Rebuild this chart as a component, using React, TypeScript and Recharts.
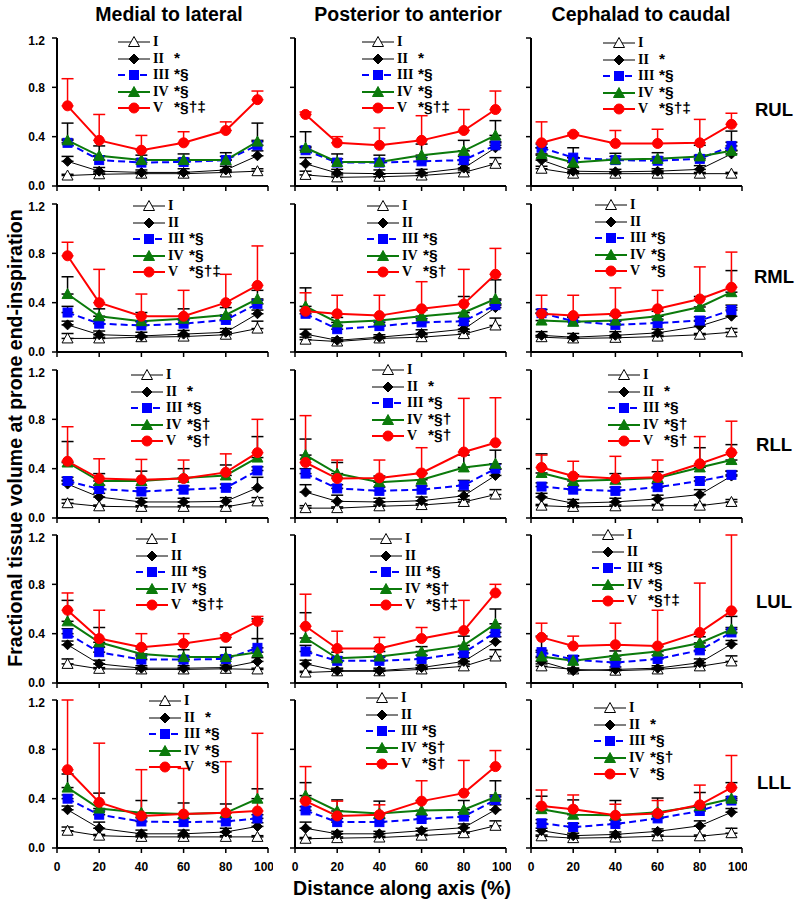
import React from 'react'
import { LineChart, Line, XAxis, YAxis, ErrorBar, Legend } from 'recharts'

const POSITIONS = [5, 20, 40, 60, 80, 95]
const GROUPS = ['I', 'II', 'III', 'IV', 'V']
const AXIS_TITLES = ['Medial to lateral', 'Posterior to anterior', 'Cephalad to caudal']
const LOBES = ['RUL', 'RML', 'RLL', 'LUL', 'LLL']
const X_TICKS = [0, 20, 40, 60, 80, 100]
const Y_TICKS = [0, 0.4, 0.8, 1.2]

// means, one row per group I..V, columns = POSITIONS
const RUL_ML = [
  [0.085, 0.095, 0.1, 0.1, 0.11, 0.12],
  [0.2, 0.12, 0.11, 0.11, 0.13, 0.245],
  [0.35, 0.21, 0.19, 0.195, 0.21, 0.33],
  [0.37, 0.245, 0.21, 0.21, 0.21, 0.36],
  [0.65, 0.37, 0.29, 0.35, 0.45, 0.7],
]
const RUL_ML_ERR = [
  [0.01, 0.01, 0.01, 0.01, 0.01, 0.02],
  [0.04, 0.03, 0.02, 0.03, 0.03, 0.04],
  [0.03, 0.03, 0.03, 0.03, 0.03, 0.04],
  [0.14, 0.08, 0.04, 0.05, 0.06, 0.15],
  [0.22, 0.21, 0.12, 0.09, 0.07, 0.07],
]
const RUL_PA = [
  [0.09, 0.07, 0.075, 0.085, 0.11, 0.18],
  [0.18, 0.105, 0.1, 0.105, 0.145, 0.31],
  [0.29, 0.19, 0.19, 0.2, 0.21, 0.33],
  [0.31, 0.195, 0.195, 0.25, 0.285, 0.41],
  [0.58, 0.35, 0.33, 0.37, 0.45, 0.62],
]
const RUL_PA_ERR = [
  [0.03, 0.02, 0.02, 0.02, 0.02, 0.05],
  [0.05, 0.03, 0.03, 0.03, 0.03, 0.04],
  [0.03, 0.03, 0.03, 0.03, 0.03, 0.03],
  [0.13, 0.065, 0.055, 0.09, 0.085, 0.12],
  [0.02, 0.05, 0.14, 0.2, 0.17, 0.15],
]
const RUL_CC = [
  [0.14, 0.1, 0.1, 0.1, 0.1, 0.1],
  [0.21, 0.12, 0.115, 0.12, 0.135, 0.26],
  [0.31, 0.23, 0.21, 0.205, 0.22, 0.325],
  [0.26, 0.19, 0.215, 0.22, 0.24, 0.285],
  [0.35, 0.42, 0.345, 0.345, 0.35, 0.5],
]
const RUL_CC_ERR = [
  [0.02, 0.01, 0.01, 0.01, 0.01, 0.01],
  [0.04, 0.03, 0.02, 0.02, 0.03, 0.03],
  [0.03, 0.08, 0.03, 0.03, 0.03, 0.03],
  [0.05, 0.04, 0.05, 0.05, 0.09, 0.16],
  [0.17, 0.01, 0.105, 0.115, 0.19, 0.09],
]
const RML_ML = [
  [0.11, 0.11, 0.12, 0.125, 0.14, 0.19],
  [0.22, 0.14, 0.13, 0.145, 0.16, 0.31],
  [0.32, 0.23, 0.215, 0.23, 0.26, 0.39],
  [0.47, 0.29, 0.25, 0.27, 0.3, 0.43],
  [0.78, 0.4, 0.29, 0.29, 0.4, 0.54],
]
const RML_ML_ERR = [
  [0.04, 0.01, 0.01, 0.01, 0.02, 0.06],
  [0.03, 0.03, 0.03, 0.03, 0.03, 0.03],
  [0.05, 0.03, 0.03, 0.03, 0.03, 0.03],
  [0.14, 0.06, 0.07, 0.08, 0.06, 0.07],
  [0.11, 0.27, 0.18, 0.21, 0.23, 0.32],
]
const RML_PA = [
  [0.1, 0.085, 0.11, 0.12, 0.145, 0.215],
  [0.145, 0.095, 0.12, 0.15, 0.185, 0.36],
  [0.31, 0.185, 0.21, 0.24, 0.25, 0.38],
  [0.37, 0.24, 0.255, 0.29, 0.32, 0.43],
  [0.33, 0.31, 0.295, 0.35, 0.39, 0.63],
]
const RML_PA_ERR = [
  [0.02, 0.01, 0.01, 0.02, 0.02, 0.06],
  [0.04, 0.02, 0.02, 0.03, 0.03, 0.03],
  [0.03, 0.03, 0.03, 0.03, 0.03, 0.04],
  [0.15, 0.04, 0.04, 0.05, 0.13, 0.155],
  [0.15, 0.15, 0.165, 0.22, 0.28, 0.21],
]
const RML_CC = [
  [0.12, 0.11, 0.115, 0.125, 0.14, 0.16],
  [0.135, 0.12, 0.135, 0.155, 0.21, 0.29],
  [0.315, 0.25, 0.22, 0.235, 0.255, 0.34],
  [0.255, 0.245, 0.255, 0.29, 0.365, 0.485],
  [0.31, 0.295, 0.31, 0.35, 0.43, 0.525],
]
const RML_CC_ERR = [
  [0.01, 0.01, 0.01, 0.01, 0.01, 0.03],
  [0.03, 0.03, 0.03, 0.03, 0.04, 0.07],
  [0.03, 0.03, 0.03, 0.03, 0.03, 0.04],
  [0.06, 0.04, 0.04, 0.04, 0.085, 0.175],
  [0.15, 0.165, 0.21, 0.15, 0.26, 0.285],
]
const RLL_ML = [
  [0.12, 0.095, 0.09, 0.09, 0.09, 0.135],
  [0.275, 0.17, 0.13, 0.13, 0.135, 0.245],
  [0.3, 0.235, 0.215, 0.23, 0.245, 0.385],
  [0.45, 0.3, 0.3, 0.325, 0.345, 0.49],
  [0.46, 0.32, 0.31, 0.32, 0.37, 0.53],
]
const RLL_ML_ERR = [
  [0.03, 0.01, 0.01, 0.01, 0.01, 0.03],
  [0.03, 0.03, 0.03, 0.03, 0.03, 0.085],
  [0.03, 0.03, 0.03, 0.03, 0.03, 0.03],
  [0.17, 0.06, 0.08, 0.075, 0.085, 0.17],
  [0.28, 0.16, 0.165, 0.15, 0.15, 0.27],
]
const RLL_PA = [
  [0.08, 0.08, 0.095, 0.105, 0.13, 0.19],
  [0.21, 0.135, 0.13, 0.14, 0.18, 0.345],
  [0.36, 0.24, 0.22, 0.23, 0.265, 0.4],
  [0.51, 0.36, 0.29, 0.31, 0.41, 0.44],
  [0.45, 0.32, 0.325, 0.365, 0.535, 0.61],
]
const RLL_PA_ERR = [
  [0.02, 0.01, 0.01, 0.01, 0.02, 0.04],
  [0.06, 0.05, 0.03, 0.03, 0.04, 0.05],
  [0.04, 0.03, 0.03, 0.03, 0.04, 0.04],
  [0.13, 0.09, 0.05, 0.05, 0.1, 0.11],
  [0.38, 0.15, 0.145, 0.205, 0.435, 0.365],
]
const RLL_CC = [
  [0.1, 0.09, 0.095, 0.1, 0.1, 0.13],
  [0.17, 0.12, 0.13, 0.155, 0.19, 0.34],
  [0.255, 0.23, 0.22, 0.25, 0.3, 0.35],
  [0.365, 0.3, 0.31, 0.325, 0.41, 0.47],
  [0.41, 0.34, 0.32, 0.33, 0.44, 0.53],
]
const RLL_CC_ERR = [
  [0.01, 0.01, 0.01, 0.01, 0.01, 0.02],
  [0.03, 0.03, 0.03, 0.03, 0.04, 0.04],
  [0.03, 0.03, 0.03, 0.03, 0.03, 0.03],
  [0.155, 0.05, 0.05, 0.05, 0.16, 0.125],
  [0.1, 0.12, 0.18, 0.14, 0.22, 0.255],
]
const LUL_ML = [
  [0.155, 0.115, 0.11, 0.11, 0.115, 0.11],
  [0.31, 0.155, 0.12, 0.12, 0.125, 0.175],
  [0.4, 0.25, 0.19, 0.19, 0.195, 0.285],
  [0.5, 0.33, 0.235, 0.21, 0.21, 0.25],
  [0.59, 0.36, 0.29, 0.32, 0.37, 0.5],
]
const LUL_ML_ERR = [
  [0.04, 0.01, 0.01, 0.01, 0.01, 0.01],
  [0.03, 0.03, 0.02, 0.02, 0.02, 0.03],
  [0.04, 0.04, 0.03, 0.03, 0.03, 0.075],
  [0.17, 0.12, 0.04, 0.06, 0.08, 0.27],
  [0.14, 0.23, 0.11, 0.08, 0.02, 0.04],
]
const LUL_PA = [
  [0.085, 0.095, 0.095, 0.11, 0.135, 0.215],
  [0.155, 0.1, 0.1, 0.125, 0.175, 0.335],
  [0.255, 0.18, 0.18, 0.195, 0.245, 0.41],
  [0.365, 0.2, 0.215, 0.255, 0.305, 0.48],
  [0.46, 0.28, 0.28, 0.36, 0.425, 0.73],
]
const LUL_PA_ERR = [
  [0.01, 0.01, 0.01, 0.01, 0.02, 0.055],
  [0.03, 0.02, 0.02, 0.02, 0.03, 0.04],
  [0.05, 0.03, 0.03, 0.03, 0.03, 0.04],
  [0.205, 0.05, 0.04, 0.04, 0.075, 0.12],
  [0.26, 0.14, 0.09, 0.09, 0.245, 0.07],
]
const LUL_CC = [
  [0.135, 0.11, 0.1, 0.11, 0.135, 0.175],
  [0.175, 0.1, 0.11, 0.12, 0.165, 0.315],
  [0.25, 0.19, 0.165, 0.195, 0.265, 0.41],
  [0.215, 0.18, 0.22, 0.255, 0.325, 0.435],
  [0.37, 0.3, 0.31, 0.3, 0.41, 0.585],
]
const LUL_CC_ERR = [
  [0.02, 0.01, 0.01, 0.01, 0.01, 0.045],
  [0.03, 0.02, 0.02, 0.02, 0.03, 0.03],
  [0.13, 0.03, 0.03, 0.03, 0.03, 0.04],
  [0.05, 0.04, 0.04, 0.04, 0.05, 0.105],
  [0.115, 0.08, 0.175, 0.29, 0.4, 0.615],
]
const LLL_ML = [
  [0.14, 0.1, 0.09, 0.09, 0.09, 0.09],
  [0.31, 0.16, 0.115, 0.115, 0.13, 0.175],
  [0.4, 0.27, 0.215, 0.21, 0.215, 0.24],
  [0.49, 0.32, 0.285, 0.275, 0.285, 0.4],
  [0.635, 0.37, 0.26, 0.275, 0.285, 0.3],
]
const LLL_ML_ERR = [
  [0.03, 0.01, 0.01, 0.01, 0.01, 0.01],
  [0.03, 0.05, 0.03, 0.03, 0.03, 0.03],
  [0.03, 0.03, 0.03, 0.03, 0.03, 0.03],
  [0.11, 0.125, 0.1, 0.09, 0.072, 0.08],
  [0.565, 0.48, 0.375, 0.37, 0.415, 0.63],
]
const LLL_PA = [
  [0.075, 0.08, 0.085, 0.1, 0.12, 0.18],
  [0.16, 0.115, 0.115, 0.14, 0.165, 0.31],
  [0.305, 0.21, 0.21, 0.235, 0.255, 0.39],
  [0.425, 0.3, 0.28, 0.305, 0.31, 0.415],
  [0.38, 0.26, 0.27, 0.38, 0.445, 0.66],
]
const LLL_PA_ERR = [
  [0.01, 0.01, 0.01, 0.01, 0.01, 0.04],
  [0.05, 0.02, 0.02, 0.02, 0.03, 0.04],
  [0.03, 0.03, 0.03, 0.03, 0.03, 0.04],
  [0.105, 0.09, 0.1, 0.08, 0.075, 0.13],
  [0.28, 0.12, 0.08, 0.165, 0.265, 0.13],
]
const LLL_CC = [
  [0.095, 0.08, 0.085, 0.095, 0.095, 0.12],
  [0.14, 0.1, 0.11, 0.135, 0.18, 0.29],
  [0.2, 0.17, 0.195, 0.24, 0.3, 0.385],
  [0.315, 0.27, 0.265, 0.29, 0.34, 0.4],
  [0.34, 0.315, 0.265, 0.28, 0.35, 0.49],
]
const LLL_CC_ERR = [
  [0.01, 0.01, 0.01, 0.01, 0.01, 0.04],
  [0.02, 0.02, 0.02, 0.02, 0.04, 0.03],
  [0.03, 0.03, 0.03, 0.03, 0.03, 0.03],
  [0.105, 0.12, 0.12, 0.115, 0.11, 0.13],
  [0.13, 0.115, 0.09, 0.105, 0.16, 0.26],
]

// significance marks shown next to each legend entry
const NOTES_A = ['', '*', '*§', '*§', '*§†‡']
const NOTES_B = ['', '', '*§', '*§', '*§†‡']
const NOTES_C = ['', '', '*§', '*§', '*§†']
const NOTES_D = ['', '', '*§', '*§', '*§']
const NOTES_E = ['', '*', '*§', '*§†', '*§†']
const NOTES_F = ['', '', '*§', '*§†', '*§†‡']
const NOTES_G = ['', '*', '*§', '*§', '*§']
const NOTES_H = ['', '', '*§', '*§†', '*§†']
const NOTES_J = ['', '*', '*§', '*§†', '*§']

const PANELS = [
  [[RUL_ML, RUL_ML_ERR, NOTES_A], [RUL_PA, RUL_PA_ERR, NOTES_A], [RUL_CC, RUL_CC_ERR, NOTES_A]],
  [[RML_ML, RML_ML_ERR, NOTES_B], [RML_PA, RML_PA_ERR, NOTES_C], [RML_CC, RML_CC_ERR, NOTES_D]],
  [[RLL_ML, RLL_ML_ERR, NOTES_E], [RLL_PA, RLL_PA_ERR, NOTES_E], [RLL_CC, RLL_CC_ERR, NOTES_E]],
  [[LUL_ML, LUL_ML_ERR, NOTES_B], [LUL_PA, LUL_PA_ERR, NOTES_F], [LUL_CC, LUL_CC_ERR, NOTES_B]],
  [[LLL_ML, LLL_ML_ERR, NOTES_G], [LLL_PA, LLL_PA_ERR, NOTES_H], [LLL_CC, LLL_CC_ERR, NOTES_J]],
]

// layout
const COL_LEFT = [57, 295, 531]
const ROW_TOP = [38, 204, 370, 535, 700]
const PLOT_W = 211
const PLOT_H = 148
const Y_AXIS_W = 30
const X_AXIS_H = 30
const M_TOP = 5
const M_RIGHT = 5
const LOBE_Y = [110, 277, 445, 602, 783]
// legend offset (line start, first row centre) relative to the plot corner
const LEGEND_POS = [
  [[61, 4], [67, 4], [72, 5]],
  [[76, 2], [72, 2], [64, 1]],
  [[74, 5], [77, 0], [77, 5]],
  [[79, 4], [75, 4], [61, 0]],
  [[92, 1], [71, -2], [63, 8]],
]

const SANS = 'Arial, "Liberation Sans", Helvetica, sans-serif'
const SERIF = '"Times New Roman", "Liberation Serif", serif'

const STYLE: Record<string, any> = {
  I: { color: '#000000', width: 1, shape: 'triangle', fill: '#ffffff', err: '#000000' },
  II: { color: '#000000', width: 1, shape: 'diamond', fill: '#000000', err: '#000000' },
  III: { color: '#0000ff', width: 2, dash: '7 4', shape: 'square', fill: '#0000ff', err: '#000000' },
  IV: { color: '#0b7a0b', width: 2, shape: 'triangle', fill: '#0b7a0b', err: '#000000' },
  V: { color: '#ff0000', width: 2, shape: 'circle', fill: '#ff0000', err: '#ff0000' },
}

function Marker({ cx, cy, group }: { cx: number; cy: number; group: string }) {
  const s = STYLE[group]
  const stroke = group === 'I' ? '#000000' : s.fill
  if (s.shape === 'circle') return <circle cx={cx} cy={cy} r={5} fill={s.fill} stroke={stroke} />
  if (s.shape === 'square') return <rect x={cx - 4.5} y={cy - 4.5} width={9} height={9} fill={s.fill} stroke={stroke} />
  if (s.shape === 'diamond')
    return <polygon points={`${cx},${cy - 5} ${cx + 5},${cy} ${cx},${cy + 5} ${cx - 5},${cy}`} fill={s.fill} stroke={stroke} />
  return (
    <polygon
      points={`${cx},${cy - 5.5} ${cx + 5.5},${cy + 4.5} ${cx - 5.5},${cy + 4.5}`}
      fill={s.fill}
      stroke={stroke}
      strokeWidth={1}
    />
  )
}

function PanelLegend({ notes }: { notes: string[] }) {
  return (
    <div>
      {GROUPS.map((g, i) => {
        const s = STYLE[g]
        return (
          <div key={g} style={{ position: 'relative', height: 16.5, display: 'flex', alignItems: 'center' }}>
            <svg width={32} height={16} style={{ display: 'block' }}>
              <line x1={0} y1={8} x2={32} y2={8} stroke={s.color} strokeWidth={s.width} strokeDasharray={s.dash} />
              <Marker cx={16} cy={8} group={g} />
            </svg>
            <span style={{ fontFamily: SERIF, fontWeight: 'bold', fontSize: 14, marginLeft: 3, lineHeight: '16px' }}>{g}</span>
            <span
              style={{
                position: 'absolute',
                left: 56,
                top: -1,
                fontFamily: SANS,
                fontWeight: 'bold',
                fontSize: 15.5,
                lineHeight: '16px',
                whiteSpace: 'nowrap',
              }}
            >
              {notes[i]}
            </span>
          </div>
        )
      })}
    </div>
  )
}

function Panel({ row, col }: { row: number; col: number }) {
  const [means, errs, notes] = PANELS[row][col] as [number[][], number[][], string[]]
  const data = POSITIONS.map((x, i) => {
    const d: Record<string, any> = { x }
    GROUPS.forEach((g, k) => {
      d[g] = means[k][i]
      d['e' + g] = [0, errs[k][i]]
    })
    return d
  })
  const [lx, ly] = LEGEND_POS[row][col]
  const tickStyle = { fontFamily: SANS, fontWeight: 'bold', fontSize: 12, fill: '#000' }
  const showX = row === LOBES.length - 1
  const showY = col === 0
  return (
    <div
      style={{
        position: 'absolute',
        left: COL_LEFT[col] - Y_AXIS_W,
        top: ROW_TOP[row] - M_TOP,
      }}
    >
      <LineChart
        width={Y_AXIS_W + PLOT_W + M_RIGHT}
        height={M_TOP + PLOT_H + X_AXIS_H}
        data={data}
        margin={{ top: M_TOP, right: M_RIGHT, bottom: 0, left: 0 }}
      >
        <XAxis
          dataKey="x"
          type="number"
          domain={[0, 100]}
          ticks={X_TICKS}
          height={X_AXIS_H}
          axisLine={{ stroke: '#000', strokeWidth: 2 }}
          tickLine={{ stroke: '#000', strokeWidth: 1.5 }}
          tickSize={5}
          tickMargin={9}
          tick={tickStyle}
          tickFormatter={(v: number) => (showX ? String(v) : '')}
        />
        <YAxis
          type="number"
          domain={[0, 1.2]}
          ticks={Y_TICKS}
          width={Y_AXIS_W}
          allowDataOverflow
          axisLine={{ stroke: '#000', strokeWidth: 2 }}
          tickLine={{ stroke: '#000', strokeWidth: 1.5 }}
          tickSize={5}
          tickMargin={7}
          tick={tickStyle}
          tickFormatter={(v: number) => (showY ? v.toFixed(1) : '')}
        />
        {GROUPS.map((g) => {
          const s = STYLE[g]
          return (
            <Line
              key={g}
              dataKey={g}
              stroke={s.color}
              strokeWidth={s.width}
              strokeDasharray={s.dash}
              isAnimationActive={false}
              activeDot={false}
              dot={(p: any) => <Marker key={`${g}-${p.index}`} cx={p.cx} cy={p.cy} group={g} />}
            >
              <ErrorBar
                dataKey={'e' + g}
                direction="y"
                width={6}
                stroke={s.err}
                strokeWidth={1.5}
                isAnimationActive={false}
              />
            </Line>
          )
        })}
        <Legend
          layout="vertical"
          align="center"
          verticalAlign="middle"
          wrapperStyle={{ left: Y_AXIS_W + lx, top: M_TOP + ly - 8, width: 120, height: 84 }}
          content={() => <PanelLegend notes={notes} />}
        />
      </LineChart>
    </div>
  )
}

export default function App() {
  const titleStyle: React.CSSProperties = {
    position: 'absolute',
    fontFamily: SANS,
    fontWeight: 'bold',
    fontSize: 19.5,
    whiteSpace: 'nowrap',
    transform: 'translate(-50%, -50%)',
    color: '#000',
  }
  return (
    <div style={{ position: 'absolute', left: 0, top: 0, width: 800, height: 906, background: '#fff' }}>
      {AXIS_TITLES.map((t, c) => (
        <div key={t} style={{ ...titleStyle, left: [169, 408, 641][c], top: 14 }}>
          {t}
        </div>
      ))}
      {LOBES.map((l, r) => (
        <div key={l} style={{ ...titleStyle, fontSize: 18.5, left: 774, top: LOBE_Y[r] }}>
          {l}
        </div>
      ))}
      {LOBES.map((_, r) => COL_LEFT.map((__, c) => <Panel key={`${r}-${c}`} row={r} col={c} />))}
      <div style={{ ...titleStyle, left: 402, top: 888 }}>Distance along axis (%)</div>
      <div style={{ ...titleStyle, left: 15, top: 438, transform: 'translate(-50%, -50%) rotate(-90deg)' }}>
        Fractional tissue volume at prone end-inspiration
      </div>
    </div>
  )
}
